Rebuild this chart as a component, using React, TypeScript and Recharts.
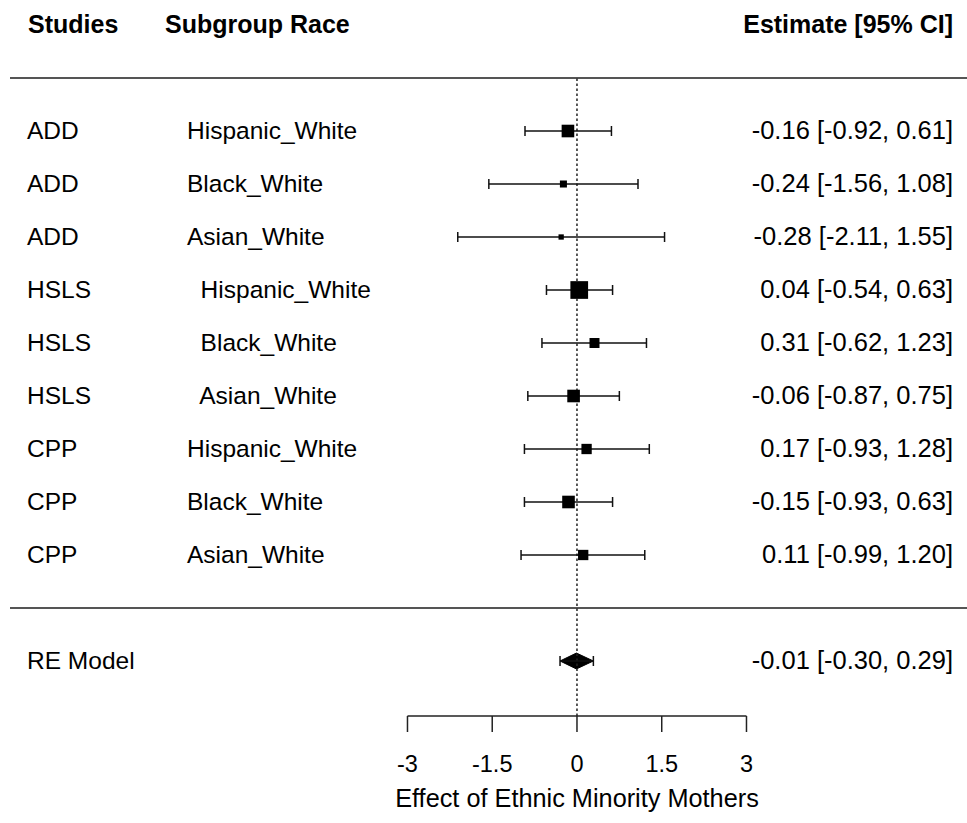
import React from 'react';
import {
  ComposedChart, Scatter, XAxis, YAxis, ErrorBar, ReferenceLine, ReferenceArea,
} from 'recharts';

const studies = ['ADD', 'ADD', 'ADD', 'HSLS', 'HSLS', 'HSLS', 'CPP', 'CPP', 'CPP'];
const subgroups = [
  'Hispanic_White', 'Black_White', 'Asian_White',
  '  Hispanic_White', '  Black_White', '  Asian_White',
  'Hispanic_White', 'Black_White', 'Asian_White',
];
const estimates = [-0.16, -0.24, -0.28, 0.04, 0.31, -0.06, 0.17, -0.15, 0.11];
const lowerCI = [-0.92, -1.56, -2.11, -0.54, -0.62, -0.87, -0.93, -0.93, -0.99];
const upperCI = [0.61, 1.08, 1.55, 0.63, 1.23, 0.75, 1.28, 0.63, 1.2];
const weights = [13.1, 6.3, 4.2, 19.3, 9.9, 13.1, 10.3, 13.1, 10.3];

const reLabel = 'RE Model';
const reEstimate = -0.01;
const reLower = -0.3;
const reUpper = 0.29;

const xTicks = [-3, -1.5, 0, 1.5, 3];
const headers = ['Studies', 'Subgroup Race', 'Estimate [95% CI]'];
const xTitle = 'Effect of Ethnic Minority Mothers';

// ---- layout / style ----
const W = 967;
const H = 823;
const FONT = '"Liberation Sans", Arial, Helvetica, sans-serif';
const ROW_FS = 24.5;
const EST_FS = 25.5;
const STUDY_X = 27;
const SUB_X = 187;
const EST_X = 953;
const MIN_SIDE = 5.3;
const MAX_SIDE = 17.7;
const DIAMOND_HALF = 0.15; // in row units
const X_DOMAIN: [number, number] = [-10.035, 6.903];
const Y_DOMAIN: [number, number] = [-2.038, 11.472];
const TOP_ROW = 10;
const AXIS_ROW = Y_DOMAIN[0];

const fmt = (v: number) => v.toFixed(2);
const wMin = Math.min(...weights);
const wMax = Math.max(...weights);

const rows = estimates.map((est, i) => ({
  x: est,
  y: estimates.length - i,
  err: [est - lowerCI[i], upperCI[i] - est],
  side: MIN_SIDE + ((weights[i] - wMin) / (wMax - wMin)) * (MAX_SIDE - MIN_SIDE),
  study: studies[i],
  subgroup: subgroups[i],
  label: `${fmt(est)} [${fmt(lowerCI[i])}, ${fmt(upperCI[i])}]`,
}));

const reRow = [{
  x: reEstimate,
  y: -1,
  err: [reEstimate - reLower, reUpper - reEstimate],
  study: reLabel,
  label: `${fmt(reEstimate)} [${fmt(reLower)}, ${fmt(reUpper)}]`,
}];

const textStyle = { fontFamily: FONT, fontSize: ROW_FS, fill: '#000' } as const;
const estStyle = { fontFamily: FONT, fontSize: EST_FS, fill: '#000' } as const;

const RowShape = (props: any) => {
  const { cx, cy, payload } = props;
  const s = payload.side;
  return (
    <g>
      <rect x={cx - s / 2} y={cy - s / 2} width={s} height={s} fill="#000" />
      <text x={STUDY_X} y={cy + 8} {...textStyle}>{payload.study}</text>
      <text x={SUB_X} y={cy + 8} {...textStyle} xmlSpace="preserve" style={{ whiteSpace: 'pre' }}>
        {payload.subgroup}
      </text>
      <text x={EST_X} y={cy + 8} textAnchor="end" {...estStyle}>{payload.label}</text>
    </g>
  );
};

const ReShape = (props: any) => {
  const { cy, payload } = props;
  return (
    <g>
      <text x={STUDY_X} y={cy + 8} {...textStyle}>{payload.study}</text>
      <text x={EST_X} y={cy + 8} textAnchor="end" {...estStyle}>{payload.label}</text>
    </g>
  );
};

const DiamondShape = (props: any) => {
  const { x, y, width, height } = props;
  const cx = x + (width * (reEstimate - reLower)) / (reUpper - reLower);
  const my = y + height / 2;
  const pts = `${x},${my} ${cx},${y} ${x + width},${my} ${cx},${y + height}`;
  return <polygon points={pts} fill="#000" stroke="#000" strokeWidth={1} />;
};

const TickLabel = (props: any) => {
  const { x, y, payload } = props;
  return (
    <text x={x} y={y} dy={14} textAnchor="middle" fontFamily={FONT} fontSize={23.5} fill="#000">
      {String(payload.value)}
    </text>
  );
};

export default function App() {
  return (
    <div style={{ position: 'absolute', left: 0, top: 0, width: W, height: H, background: '#fff' }}>
      <ComposedChart width={W} height={H} margin={{ top: 0, right: 0, bottom: 0, left: 10 }}>
        <XAxis
          type="number"
          dataKey="x"
          domain={X_DOMAIN}
          allowDataOverflow
          ticks={xTicks}
          interval={0}
          axisLine={false}
          tickSize={16}
          tickMargin={26}
          tickLine={{ stroke: '#222', strokeWidth: 1.5 }}
          tick={<TickLabel />}
          height={107}
        />
        <YAxis type="number" dataKey="y" domain={Y_DOMAIN} allowDataOverflow hide />
        <ReferenceLine y={TOP_ROW} stroke="#555" strokeWidth={2} />
        <ReferenceLine y={0} stroke="#555" strokeWidth={2} />
        <ReferenceLine
          segment={[{ x: 0, y: AXIS_ROW }, { x: 0, y: TOP_ROW }]}
          stroke="#222"
          strokeWidth={1.5}
          strokeDasharray="2.5 2.5"
        />
        <ReferenceLine
          segment={[{ x: xTicks[0], y: AXIS_ROW }, { x: xTicks[xTicks.length - 1], y: AXIS_ROW }]}
          stroke="#222"
          strokeWidth={1.5}
          ifOverflow="visible"
        />
        <ReferenceArea
          x1={reLower}
          x2={reUpper}
          y1={-1 - DIAMOND_HALF}
          y2={-1 + DIAMOND_HALF}
          shape={DiamondShape}
        />
        <Scatter data={rows} dataKey="y" shape={RowShape} isAnimationActive={false}>
          <ErrorBar dataKey="err" direction="x" width={5} stroke="#111" strokeWidth={1.5} />
        </Scatter>
        <Scatter data={reRow} dataKey="y" shape={ReShape} isAnimationActive={false}>
          <ErrorBar dataKey="err" direction="x" width={5} stroke="#111" strokeWidth={1.5} />
        </Scatter>
        <text x={28} y={33} fontFamily={FONT} fontSize={25} fontWeight="bold" fill="#000">{headers[0]}</text>
        <text x={165} y={33} fontFamily={FONT} fontSize={25} fontWeight="bold" fill="#000">{headers[1]}</text>
        <text x={EST_X} y={33} textAnchor="end" fontFamily={FONT} fontSize={25} fontWeight="bold" fill="#000">{headers[2]}</text>
        <text x={577} y={807} textAnchor="middle" fontFamily={FONT} fontSize={25.3} fill="#000">{xTitle}</text>
      </ComposedChart>
    </div>
  );
}
